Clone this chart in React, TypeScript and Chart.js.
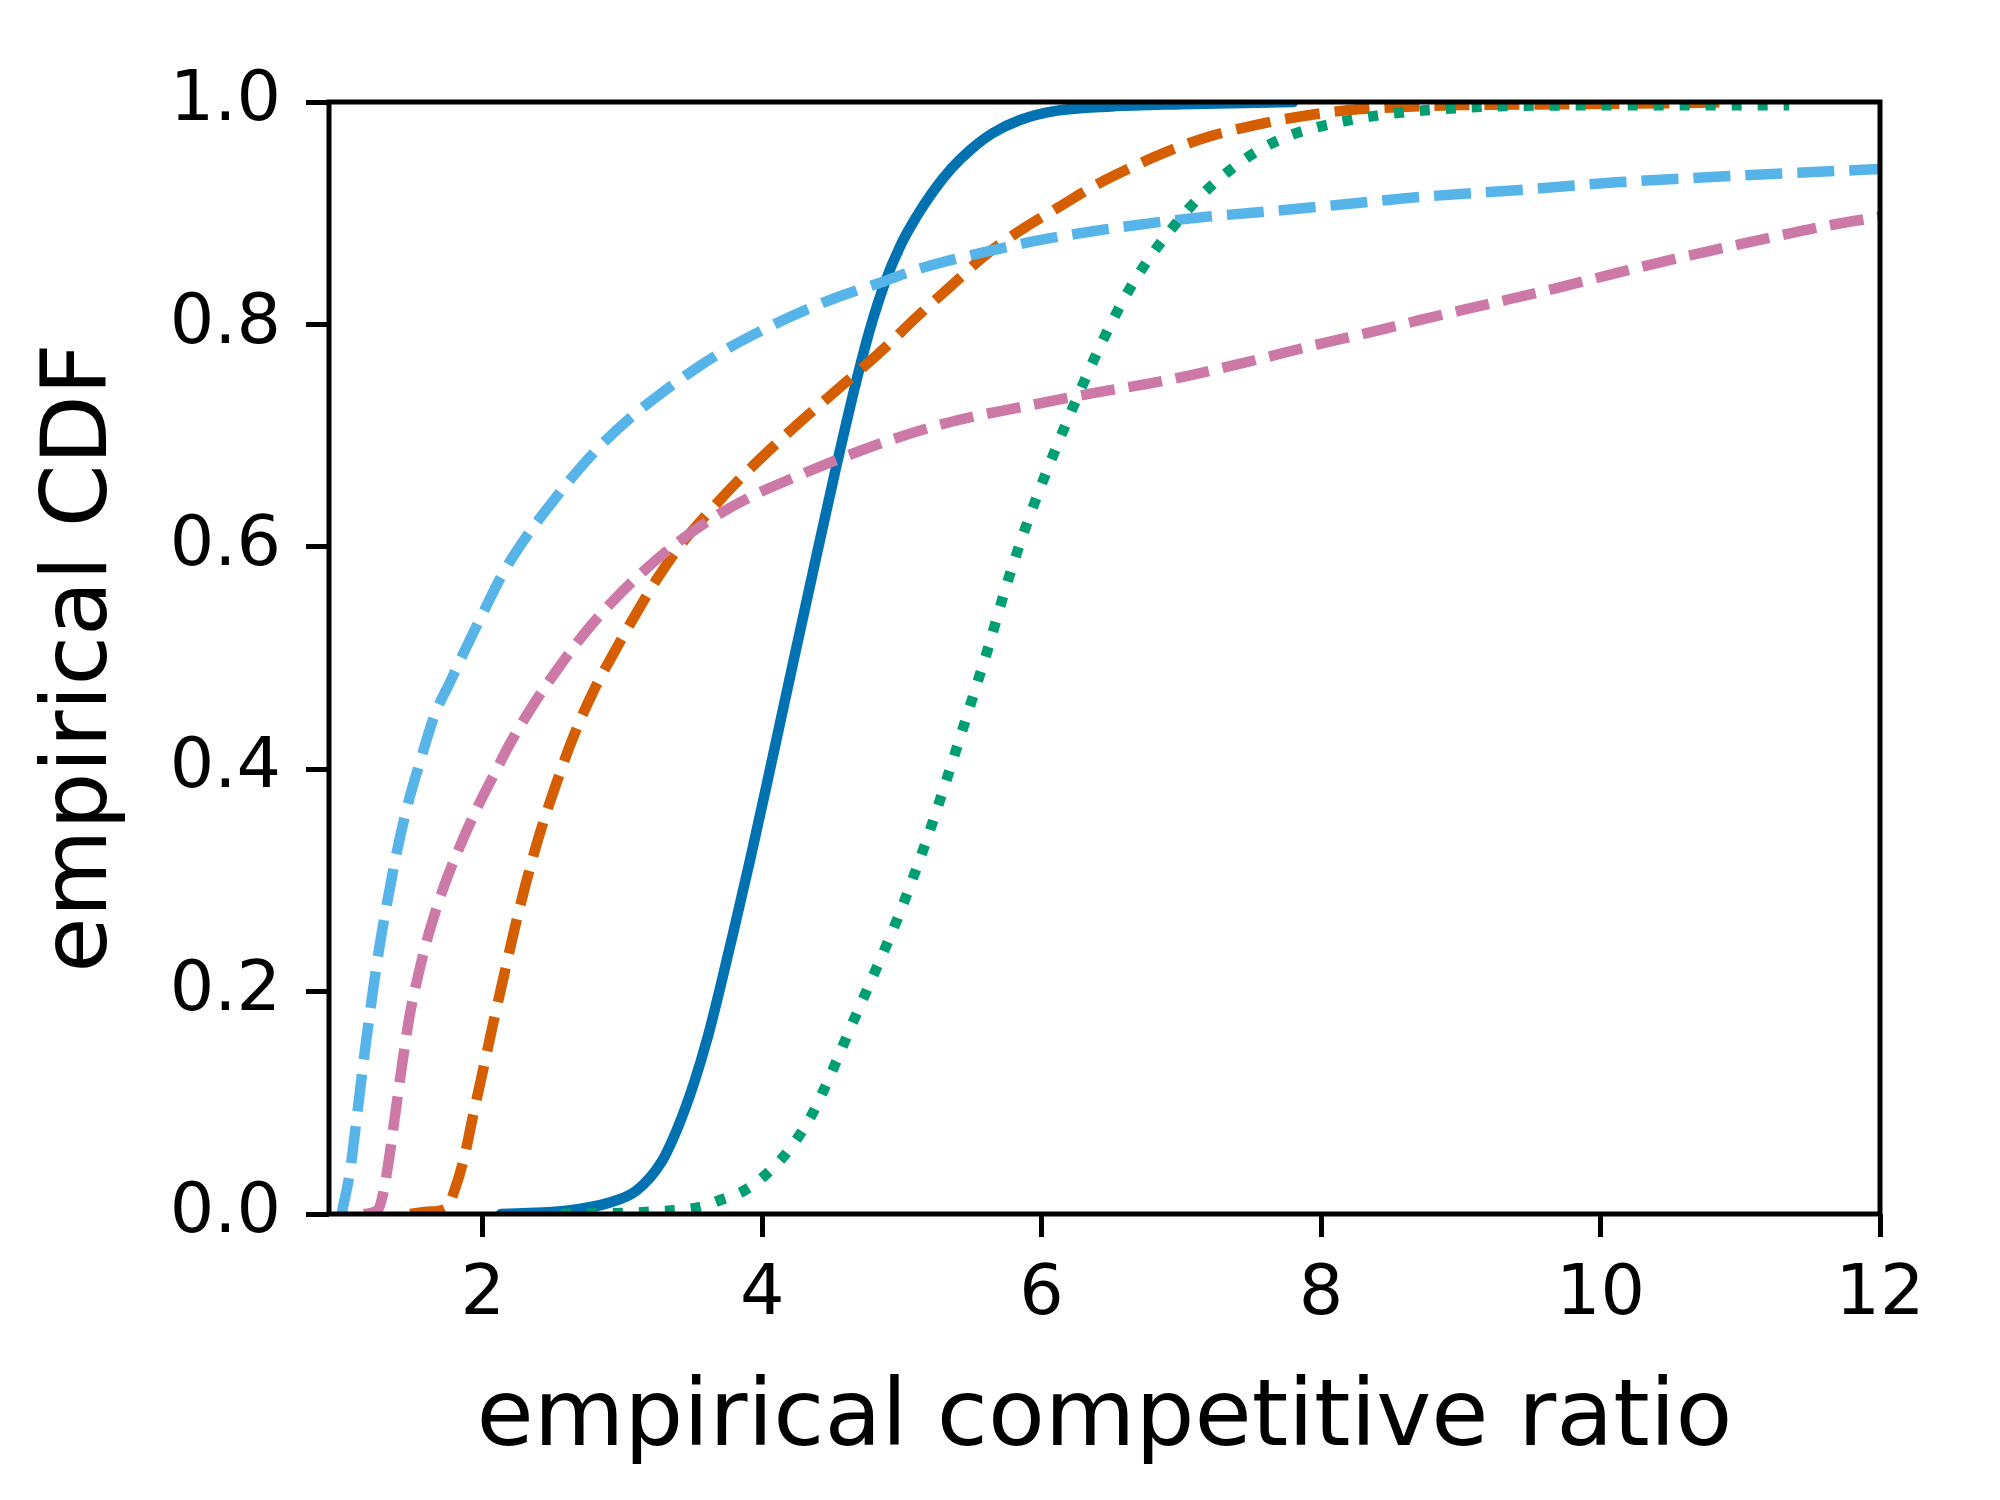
import React, { useEffect, useRef } from "react";
import { Chart, registerables } from "chart.js";

Chart.register(...registerables);

// ---- axis ranges & ticks ----
const xRange = [0.9, 12];
const yRange = [0, 1];
const xTickValues = [2, 4, 6, 8, 10, 12];
const yTickValues = [0, 0.2, 0.4, 0.6, 0.8, 1.0];

const xTitle = "empirical competitive ratio";
const yTitle = "empirical CDF";

// ---- series: [competitive ratio, CDF] ----
const solidBlue: [number, number][] = [
  [2.13, 0], [2.6, 0.003], [2.9, 0.01], [3.1, 0.021], [3.28, 0.047], [3.4, 0.079],
  [3.51, 0.117], [3.61, 0.159], [3.71, 0.209], [3.81, 0.262], [3.92, 0.322],
  [4.02, 0.379], [4.12, 0.437], [4.22, 0.495], [4.38, 0.587], [4.53, 0.672],
  [4.66, 0.742], [4.77, 0.795], [4.88, 0.838], [4.99, 0.871], [5.1, 0.896],
  [5.22, 0.919], [5.36, 0.941], [5.5, 0.958], [5.65, 0.972], [5.85, 0.984],
  [6.1, 0.992], [6.5, 0.996], [7.0, 0.998], [7.8, 1.0],
];

const dashedOrange: [number, number][] = [
  [1.48, 0], [1.6, 0.002], [1.74, 0.005], [1.8, 0.022], [1.87, 0.052], [1.93, 0.088],
  [2.0, 0.128], [2.076, 0.172], [2.153, 0.215], [2.229, 0.257], [2.306, 0.296],
  [2.408, 0.342], [2.51, 0.381], [2.639, 0.426], [2.792, 0.47], [2.945, 0.506],
  [3.098, 0.54], [3.252, 0.572], [3.431, 0.604], [3.61, 0.63], [3.84, 0.661],
  [4.044, 0.686], [4.274, 0.7125], [4.479, 0.735], [4.709, 0.76], [4.87, 0.778],
  [5.1, 0.806], [5.355, 0.835], [5.611, 0.8636], [5.867, 0.886], [6.123, 0.9055],
  [6.378, 0.9247], [6.634, 0.9407], [6.889, 0.955], [7.2, 0.969], [7.52, 0.979],
  [7.85, 0.987], [8.185, 0.9925], [8.566, 0.9955], [9.0, 0.9972], [9.8, 0.998],
  [10.5, 0.999], [11.0, 1.0],
];

const dashedPink: [number, number][] = [
  [1.15, 0], [1.25, 0.004], [1.29, 0.02], [1.33, 0.05], [1.372, 0.088], [1.424, 0.135],
  [1.475, 0.177], [1.539, 0.215], [1.616, 0.253], [1.718, 0.293], [1.821, 0.326],
  [1.948, 0.362], [2.076, 0.394], [2.204, 0.425], [2.357, 0.457], [2.536, 0.49],
  [2.74, 0.524], [2.945, 0.553], [3.15, 0.578], [3.355, 0.6], [3.61, 0.623],
  [3.917, 0.645], [4.223, 0.662], [4.53, 0.678], [4.87, 0.694], [5.355, 0.7125],
  [5.867, 0.726], [6.378, 0.7384], [6.889, 0.7496], [7.4, 0.764], [7.912, 0.78],
  [8.424, 0.795], [8.71, 0.804], [9.187, 0.818], [9.664, 0.832], [10.14, 0.847],
  [10.62, 0.8615], [11.1, 0.8748], [11.57, 0.8875], [12.0, 0.8969],
];

const dashedSky: [number, number][] = [
  [0.99, 0], [1.05, 0.038], [1.1, 0.088], [1.156, 0.146], [1.207, 0.194], [1.258, 0.238],
  [1.322, 0.284], [1.386, 0.326], [1.463, 0.368], [1.552, 0.407], [1.654, 0.448],
  [1.769, 0.479], [1.846, 0.5], [2.0, 0.54], [2.153, 0.578], [2.306, 0.608],
  [2.485, 0.638], [2.664, 0.666], [2.843, 0.691], [3.047, 0.715], [3.277, 0.738],
  [3.533, 0.761], [3.763, 0.779], [4.044, 0.7975], [4.3, 0.8124], [4.581, 0.8264],
  [4.87, 0.8386], [5.1, 0.849], [5.355, 0.858], [5.662, 0.867], [5.994, 0.876],
  [6.378, 0.884], [6.838, 0.892], [7.196, 0.897], [7.657, 0.902], [8.168, 0.908],
  [8.7, 0.9145], [9.425, 0.9209], [10.14, 0.928], [10.857, 0.9329], [11.334, 0.9359],
  [12.0, 0.9397],
];

const dottedGreen: [number, number][] = [
  [2.56, 0], [3.2, 0.002], [3.56, 0.0065], [3.71, 0.013], [3.87, 0.021], [4.04, 0.037],
  [4.2, 0.059], [4.35, 0.088], [4.45, 0.114], [4.53, 0.137], [4.61, 0.161], [4.71, 0.19],
  [4.79, 0.213], [4.88, 0.239], [4.97, 0.266], [5.07, 0.299], [5.19, 0.341],
  [5.3, 0.383], [5.41, 0.426], [5.52, 0.47], [5.62, 0.51], [5.74, 0.562],
  [5.87, 0.612], [5.99, 0.653], [6.12, 0.694], [6.25, 0.733], [6.38, 0.77],
  [6.51, 0.804], [6.63, 0.832], [6.79, 0.863], [6.97, 0.892], [7.15, 0.917],
  [7.35, 0.939], [7.56, 0.957], [7.8, 0.971], [8.14, 0.982], [8.47, 0.989],
  [8.8, 0.993], [9.21, 0.996], [10.0, 0.997], [11.35, 0.997],
];

const FONT = "'DejaVu Sans', 'Liberation Sans', sans-serif";

const framePlugin = {
  id: "frame",
  afterDatasetsDraw(chart: any) {
    const { ctx, chartArea } = chart;
    const { left, top, right, bottom } = chartArea;
    ctx.save();
    ctx.strokeStyle = "#000000";
    ctx.lineWidth = 5;
    ctx.strokeRect(left, top, right - left, bottom - top);
    ctx.restore();
  },
};

const toPoints = (arr: [number, number][]) => arr.map(([x, y]) => ({ x, y }));

export default function App() {
  const ref = useRef<HTMLCanvasElement | null>(null);

  useEffect(() => {
    if (!ref.current) return;
    const lw = 10.5;
    const common = {
      pointRadius: 0,
      pointHoverRadius: 0,
      borderWidth: lw,
      fill: false,
      cubicInterpolationMode: "monotone" as const,
      borderJoinStyle: "round" as const,
      clip: 0,
    };
    const chart = new Chart(ref.current, {
      type: "line",
      data: {
        datasets: [
          { ...common, label: "dotted green", data: toPoints(dottedGreen), borderColor: "#009E73", borderDash: [10, 16] },
          { ...common, label: "dashed sky", data: toPoints(dashedSky), borderColor: "#56B4E9", borderDash: [37, 15] },
          { ...common, label: "dashed pink", data: toPoints(dashedPink), borderColor: "#CC79A7", borderDash: [34, 14] },
          { ...common, label: "dashed orange", data: toPoints(dashedOrange), borderColor: "#D55E00", borderDash: [35, 15] },
          { ...common, label: "solid blue", data: toPoints(solidBlue), borderColor: "#0072B2", borderCapStyle: "round" },
        ],
      },
      options: {
        animation: false,
        responsive: false,
        devicePixelRatio: 1,
        parsing: false as any,
        normalized: true,
        events: [],
        layout: { padding: { left: 0, top: 102, right: 120, bottom: 0 } },
        plugins: { legend: { display: false }, tooltip: { enabled: false }, title: { display: false } },
        scales: {
          x: {
            type: "linear",
            min: xRange[0],
            max: xRange[1],
            afterBuildTicks: (scale: any) => {
              scale.ticks = xTickValues.map((v) => ({ value: v }));
            },
            afterFit: (scale: any) => {
              scale.height = 286;
            },
            grid: { display: true, drawOnChartArea: false, drawTicks: true, tickLength: 23, tickWidth: 5, tickColor: "#000" },
            border: { display: false },
            ticks: {
              color: "#000",
              font: { family: FONT, size: 70 },
              padding: 17,
              maxRotation: 0,
              autoSkip: false,
              callback: (v: any) => String(v),
            },
            title: {
              display: true,
              text: xTitle,
              color: "#000",
              font: { family: FONT, size: 93 },
              padding: { top: 0, bottom: 23 },
            },
          },
          y: {
            type: "linear",
            min: yRange[0],
            max: yRange[1],
            afterBuildTicks: (scale: any) => {
              scale.ticks = yTickValues.map((v) => ({ value: v }));
            },
            afterFit: (scale: any) => {
              scale.width = 329;
            },
            grid: { display: true, drawOnChartArea: false, drawTicks: true, tickLength: 23, tickWidth: 5, tickColor: "#000" },
            border: { display: false },
            ticks: {
              color: "#000",
              font: { family: FONT, size: 70 },
              padding: 25,
              autoSkip: false,
              callback: (v: any) => Number(v).toFixed(1),
            },
            title: {
              display: true,
              text: yTitle,
              color: "#000",
              font: { family: FONT, size: 90 },
              padding: { top: 29, bottom: 0 },
            },
          },
        },
      },
      plugins: [framePlugin],
    } as any);
    return () => chart.destroy();
  }, []);

  return (
    <div style={{ position: "absolute", left: 0, top: 0, width: 2000, height: 1500, background: "#ffffff" }}>
      <canvas ref={ref} width={2000} height={1500} style={{ width: 2000, height: 1500, display: "block" }} />
    </div>
  );
}
